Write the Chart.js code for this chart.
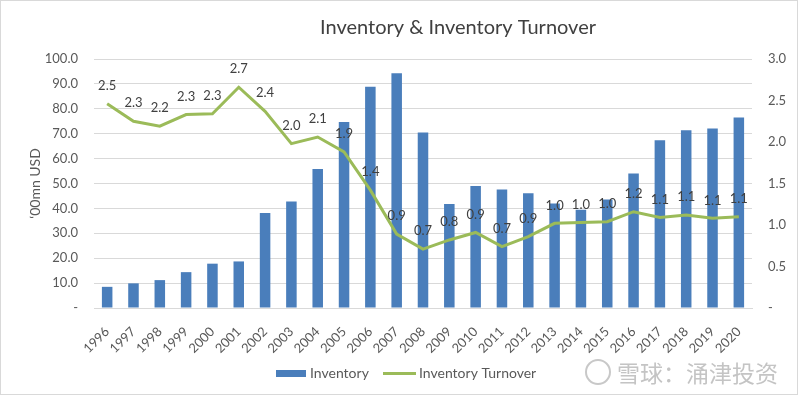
<!DOCTYPE html>
<html>
<head>
<meta charset="utf-8">
<script src="https://cdn.jsdelivr.net/npm/chart.js@4"></script>
<style>
  html, body { margin: 0; padding: 0; background: #fff; }
  #wrap { position: relative; width: 800px; height: 397px; }
</style>
</head>
<body>
<div id="wrap"><canvas id="chart" width="800" height="397"></canvas></div>
<script>
const years = ['1996', '1997', '1998', '1999', '2000', '2001', '2002', '2003', '2004', '2005', '2006', '2007', '2008',
  '2009', '2010', '2011', '2012', '2013', '2014', '2015', '2016', '2017', '2018', '2019', '2020'];
const inventory = [8.5, 9.9, 11.2, 14.4, 17.8, 18.7, 38.2, 42.8, 55.8, 74.7, 88.9, 94.3, 70.5,
  41.8, 49.0, 47.6, 46.1, 42.0, 39.5, 43.6, 54.0, 67.4, 71.4, 72.1, 76.5];
const turnover = [2.46, 2.25, 2.19, 2.33, 2.34, 2.66, 2.37, 1.98, 2.06, 1.88, 1.42, 0.89, 0.71,
  0.82, 0.91, 0.74, 0.86, 1.02, 1.03, 1.04, 1.16, 1.09, 1.12, 1.08, 1.10];

const titleText = 'Inventory & Inventory Turnover';
const watermarkText = '雪球：涌津投资';
const textColor = '#595959';
const gridColor = '#d9d9d9';
const fontFamily = 'Lato';

// labels over the turnover line, title, legend and watermark
const decorations = {
  id: 'decorations',
  afterDatasetsDraw(chart) {
    const ctx = chart.ctx;
    const meta = chart.getDatasetMeta(1);
    ctx.save();
    ctx.fillStyle = '#404040';
    ctx.font = `13px ${fontFamily}`;
    ctx.textAlign = 'center';
    ctx.textBaseline = 'middle';
    meta.data.forEach((pt, i) => {
      ctx.fillText(turnover[i].toFixed(1), pt.x, pt.y - 18);
    });
    ctx.restore();
  },
  afterDraw(chart) {
    const ctx = chart.ctx;
    ctx.save();
    ctx.strokeStyle = gridColor;
    ctx.lineWidth = 1;
    ctx.strokeRect(0.5, 0.5, 797, 394);

    ctx.fillStyle = '#404040';
    ctx.font = `20px ${fontFamily}`;
    ctx.textAlign = 'center';
    ctx.textBaseline = 'middle';
    ctx.fillText(titleText, 458, 28);

    // legend
    const ds = chart.data.datasets;
    ctx.font = `14px ${fontFamily}`;
    ctx.textAlign = 'left';
    ctx.fillStyle = ds[0].backgroundColor;
    ctx.fillRect(276, 370, 30, 7);
    ctx.fillStyle = textColor;
    ctx.fillText(ds[0].label, 310, 373);
    ctx.strokeStyle = ds[1].borderColor;
    ctx.lineWidth = 3;
    ctx.beginPath();
    ctx.moveTo(383, 373.5);
    ctx.lineTo(416, 373.5);
    ctx.stroke();
    ctx.fillText(ds[1].label, 419, 373);

    // watermark
    ctx.strokeStyle = '#c8c8c8';
    ctx.lineWidth = 2;
    ctx.beginPath();
    ctx.arc(598, 372, 12, 0, Math.PI * 2);
    ctx.stroke();
    ctx.fillStyle = '#c4c4c4';
    ctx.font = '23px "Noto Sans CJK SC"';
    ctx.fillText(watermarkText, 617, 373);
    ctx.restore();
  }
};

new Chart(document.getElementById('chart'), {
  type: 'bar',
  data: {
    labels: years,
    datasets: [
      {
        type: 'bar',
        label: 'Inventory',
        data: inventory,
        backgroundColor: '#4A7EBB',
        barPercentage: 0.4,
        categoryPercentage: 1,
        yAxisID: 'y',
        order: 2
      },
      {
        type: 'line',
        label: 'Inventory Turnover',
        data: turnover,
        borderColor: '#9BBB59',
        backgroundColor: '#9BBB59',
        borderWidth: 3,
        pointRadius: 0,
        tension: 0,
        yAxisID: 'y1',
        order: 1
      }
    ]
  },
  options: {
    responsive: false,
    animation: false,
    layout: { padding: { top: 59, left: 0, right: 0, bottom: 0 } },
    plugins: {
      legend: { display: false },
      title: { display: false },
      tooltip: { enabled: false }
    },
    scales: {
      x: {
        grid: { display: false },
        border: { color: gridColor },
        ticks: { color: textColor, font: { size: 13, family: fontFamily }, minRotation: 45, maxRotation: 45, padding: 8 },
        afterFit(scale) { scale.height = 397 - 308; }
      },
      y: {
        position: 'left',
        min: 0,
        max: 100,
        ticks: {
          stepSize: 10,
          color: textColor,
          font: { size: 13, family: fontFamily },
          padding: 16,
          callback: (v) => (v === 0 ? '-' : v.toFixed(1))
        },
        grid: { color: gridColor, drawTicks: false },
        border: { display: false },
        title: {
          display: true,
          text: '‘00mn USD',
          color: textColor,
          font: { size: 14, family: fontFamily },
          padding: { top: 27, bottom: 0 }
        },
        afterFit(scale) { scale.width = 94; }
      },
      y1: {
        position: 'right',
        min: 0,
        max: 3,
        ticks: {
          stepSize: 0.5,
          color: textColor,
          font: { size: 13, family: fontFamily },
          padding: 16,
          callback: (v) => (v === 0 ? '-' : v.toFixed(1))
        },
        grid: { drawOnChartArea: false, drawTicks: false },
        border: { display: false },
        afterFit(scale) { scale.width = 48; }
      }
    }
  },
  plugins: [decorations]
});
</script>
</body>
</html>
